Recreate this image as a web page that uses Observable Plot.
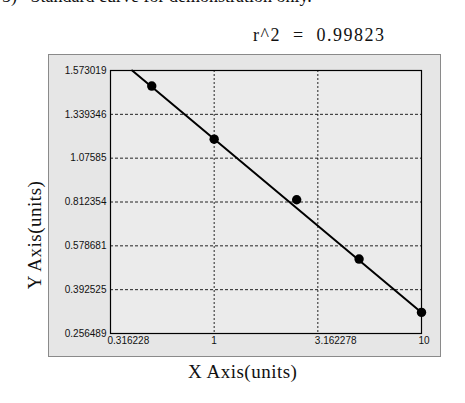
<!DOCTYPE html>
<html>
<head>
<meta charset="utf-8">
<script src="https://cdn.jsdelivr.net/npm/d3@7"></script>
<script src="https://cdn.jsdelivr.net/npm/@observablehq/plot@0.6"></script>
<style>
  html, body { margin: 0; padding: 0; background: #fff; }
  #wrap { position: relative; width: 465px; height: 403px; overflow: hidden; }
  #panel { position: absolute; left: 48px; top: 54px; width: 393px; height: 303px;
           background: #e6e6e6; border: 1px solid #8a8a8a; box-sizing: border-box; }
  #chart { position: absolute; left: 0; top: 0; }
  .t { position: absolute; font-family: "Liberation Serif", "Times New Roman", serif; color: #111; white-space: pre; }
  #header { left: 2px; top: -14px; font-size: 18px; }
  #r2 { left: 253px; top: 25px; font-size: 18px; letter-spacing: 1.5px; }
  #xtitle { left: 188px; top: 361px; font-size: 19px; letter-spacing: 0.5px; }
  #ytitle { left: 35px; top: 235px; font-size: 19px; letter-spacing: 0.5px; transform: translate(-50%, -50%) rotate(-90deg); }
</style>
</head>
<body>
<div id="wrap">
  <div id="panel"></div>
  <div id="chart"></div>
  <div class="t" id="header">5)   Standard curve for demonstration only.</div>
  <div class="t" id="r2">r^2  =  0.99823</div>
  <div class="t" id="xtitle">X Axis(units)</div>
  <div class="t" id="ytitle">Y Axis(units)</div>
</div>
<script>
const xTicks = [0.316228, 1, 3.162278, 10];
const xTickLabels = ["0.316228", "1", "3.162278", "10"];
const yTicks = [0.256489, 0.392525, 0.578681, 0.812354, 1.07585, 1.339346, 1.573019];
const yTickLabels = ["0.256489", "0.392525", "0.578681", "0.812354", "1.07585", "1.339346", "1.573019"];
const concentration = [0.5, 1, 2.5, 5, 10];
const response = [1.49, 1.19, 0.826, 0.5225, 0.322];
const fitX = [0.4023, 10];
const fitY = [1.573019, 0.3218];

const points = concentration.map((c, i) => ({x: c, y: response[i]}));
const fit = fitX.map((c, i) => ({x: c, y: fitY[i]}));
const xLab = xTicks.map((v, i) => ({v, label: xTickLabels[i]}));
const yLab = yTicks.map((v, i) => ({v, label: yTickLabels[i]}));

const W = 465, H = 403, pTop = 70, pBottom = 333, pLeft = 110, pRight = 421;
const yRange = yTicks.map((d, i) => pBottom - i * (pBottom - pTop) / (yTicks.length - 1));

const chart = Plot.plot({
  width: W, height: H,
  marginTop: pTop, marginBottom: H - pBottom, marginLeft: pLeft, marginRight: W - pRight,
  style: {fontFamily: "'Liberation Sans', Arial, sans-serif", fontSize: "10px", background: "transparent", color: "#111"},
  x: {type: "log", domain: [xTicks[0], xTicks[xTicks.length - 1]], range: [pLeft, pRight], axis: null},
  y: {type: "linear", domain: yTicks, range: yRange, axis: null},
  marks: [
    Plot.frame({fill: "#ebebeb", stroke: "none"}),
    Plot.gridY(yTicks, {stroke: "#000", strokeOpacity: 0.85, strokeDasharray: "3,2", strokeWidth: 1}),
    Plot.gridX(xTicks, {stroke: "#000", strokeOpacity: 0.85, strokeDasharray: "2,2", strokeWidth: 1}),
    Plot.frame({stroke: "#000", strokeWidth: 1.2}),
    Plot.text(yLab, {y: "v", text: "label", frameAnchor: "left", textAnchor: "end", dx: -4, fill: "#111"}),
    Plot.text(xLab, {x: "v", text: "label", frameAnchor: "bottom", textAnchor: "start", lineAnchor: "top", dx: -3, dy: 3, fill: "#111"}),
    Plot.line(fit, {x: "x", y: "y", stroke: "#000", strokeWidth: 2}),
    Plot.dot(points, {x: "x", y: "y", r: 4.7, fill: "#000", stroke: "none"})
  ]
});
document.getElementById("chart").appendChild(chart);
</script>
</body>
</html>
